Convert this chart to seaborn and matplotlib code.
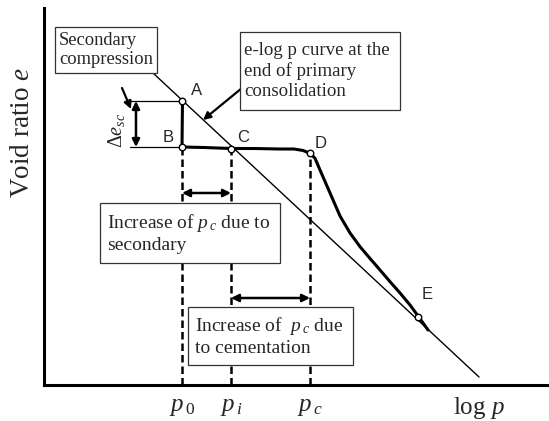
import pandas as pd
import seaborn as sns
import matplotlib.pyplot as plt
from matplotlib.patches import Rectangle

# curva e-log p (x = log p, y = e)
curva_logp = [1.38, 1.60, 1.87, 2.10, 2.35, 2.50, 2.59, 2.66, 2.71, 2.76, 2.86, 2.96, 3.06, 3.16,
              3.26, 3.36, 3.46, 3.56, 3.66, 3.74, 3.84]
curva_e = [2.38, 2.375, 2.365, 2.365, 2.36, 2.36, 2.345, 2.317, 2.267, 2.15, 1.92, 1.69, 1.52, 1.383,
           1.265, 1.15, 1.033, 0.92, 0.80, 0.69, 0.55]

# reta: e-log p ao fim do adensamento primario
reta_logp = [1.09, 4.35]
reta_e = [3.12, 0.08]

# pontos marcados
pontos_nome = ['A', 'B', 'C', 'D', 'E']
pontos_logp = [1.385, 1.38, 1.87, 2.66, 3.74]
pontos_e = [2.84, 2.38, 2.365, 2.317, 0.683]

# eixo x
p_ticks = [1.38, 1.87, 2.66]
p_labels = [r'$p_{\,0}$', r'$p_{\,i}$', r'$p_{\,c}$']

sns.set_theme(style='white')
plt.rcParams['font.family'] = ['Liberation Serif', 'DejaVu Serif']
plt.rcParams['mathtext.fontset'] = 'custom'
plt.rcParams['mathtext.rm'] = 'Liberation Serif'
plt.rcParams['mathtext.it'] = 'Liberation Serif:italic'
plt.rcParams['mathtext.bf'] = 'Liberation Serif:bold'

df_curva = pd.DataFrame({'logp': curva_logp, 'e': curva_e})
df_reta = pd.DataFrame({'logp': reta_logp, 'e': reta_e})
df_pontos = pd.DataFrame({'nome': pontos_nome, 'logp': pontos_logp, 'e': pontos_e})

fig = plt.figure(figsize=(5.49, 4.21), dpi=100)
ax = fig.add_axes([0.0801, 0.0855, 0.92, 0.8955])

sns.lineplot(x='logp', y='e', data=df_reta, color='black', lw=1.0, sort=False, estimator=None, ax=ax, zorder=2)
sns.lineplot(x='logp', y='e', data=df_curva, color='black', lw=2.2, sort=False, estimator=None, ax=ax,
             zorder=3, solid_joinstyle='round', solid_capstyle='round')

a = df_pontos.set_index('nome')
# A-B vertical
ax.plot([a.loc['A', 'logp'], a.loc['B', 'logp']], [a.loc['A', 'e'], a.loc['B', 'e']], color='black', lw=2.2, zorder=3)

# linhas verticais tracejadas ate o eixo
for nome in ['B', 'C', 'D']:
    ax.plot([a.loc[nome, 'logp']] * 2, [0, a.loc[nome, 'e']], color='black', lw=1.8,
            linestyle=(0, (3, 1.6)), zorder=1)

# linhas horizontais finas para o delta e
for nome in ['A', 'B']:
    ax.plot([0.86, a.loc[nome, 'logp']], [a.loc[nome, 'e']] * 2, color='black', lw=0.9, zorder=2)

sns.scatterplot(x='logp', y='e', data=df_pontos, s=22, color='white', edgecolor='black',
                linewidth=1.0, ax=ax, zorder=5)

for nome, dx, dy in [('A', 0.14, 0.11), ('B', -0.14, 0.10), ('C', 0.12, 0.11), ('D', 0.11, 0.10), ('E', 0.09, 0.22)]:
    ax.text(a.loc[nome, 'logp'] + dx, a.loc[nome, 'e'] + dy, nome, family='Liberation Sans',
            fontsize=12, ha='center', va='center')

# setas
dupla = dict(arrowstyle='<|-|>', color='black', lw=1.8, mutation_scale=11, shrinkA=0, shrinkB=0)
simples = dict(arrowstyle='-|>', color='black', lw=1.6, mutation_scale=11, shrinkA=0, shrinkB=0)
ax.annotate('', xy=(0.92, a.loc['A', 'e']), xytext=(0.92, a.loc['B', 'e']), arrowprops=dupla)
ax.annotate('', xy=(a.loc['B', 'logp'], 1.92), xytext=(a.loc['C', 'logp'], 1.92), arrowprops=dupla)
ax.annotate('', xy=(a.loc['C', 'logp'], 0.87), xytext=(a.loc['D', 'logp'], 0.87), arrowprops=dupla)
ax.annotate('', xy=(0.87, 2.76), xytext=(0.78, 2.97), arrowprops=simples)
ax.annotate('', xy=(1.59, 2.65), xytext=(1.98, 2.97), arrowprops=simples)

ax.text(0.73, 2.55, r'$\Delta e_{sc}$', rotation=90, fontsize=14.5, ha='center', va='center')

# caixas de texto
caixas = [
    (0.11, 3.12, 1.02, 0.46, 0.15, 'Secondary\ncompression', 1.2, 13.3),
    (1.96, 2.75, 1.60, 0.78, 2.00, 'e-log p curve at the\nend of primary\nconsolidation', 1.25, 13.6),
    (0.56, 1.22, 1.80, 0.60, 0.63, 'Increase of $p_{\\,c}$ due to\nsecondary', 1.25, 14),
    (1.44, 0.20, 1.65, 0.58, 1.51, 'Increase of  $p_{\\,c}$ due\nto cementation', 1.25, 14),
]
for x0, y0, w, h, tx, txt, ls, fs in caixas:
    ax.add_patch(Rectangle((x0, y0), w, h, facecolor='white', edgecolor='#333333', lw=0.9, zorder=6))
    ax.text(tx, y0 + h / 2, txt, fontsize=fs, ha='left', va='center', linespacing=ls, zorder=7)

ax.set_xlim(0, 5.05)
ax.set_ylim(0, 3.77)
ax.set_xticks(p_ticks, p_labels, fontsize=18)
ax.tick_params(axis='x', length=0, pad=8)
ax.set_yticks([])
ax.set_xlabel(r'log $p$', fontsize=18)
ax.xaxis.set_label_coords(0.861, -0.06)
ax.xaxis.label.set_va('center')
ax.set_ylabel(r'Void ratio $e$', fontsize=19.5)
ax.yaxis.set_label_coords(-0.0416, 0.671)
ax.yaxis.label.set_va('center')

sns.despine(ax=ax)
for lado in ['left', 'bottom']:
    ax.spines[lado].set_linewidth(2.2)
    ax.spines[lado].set_color('black')

plt.savefig('out.png', dpi=100)
